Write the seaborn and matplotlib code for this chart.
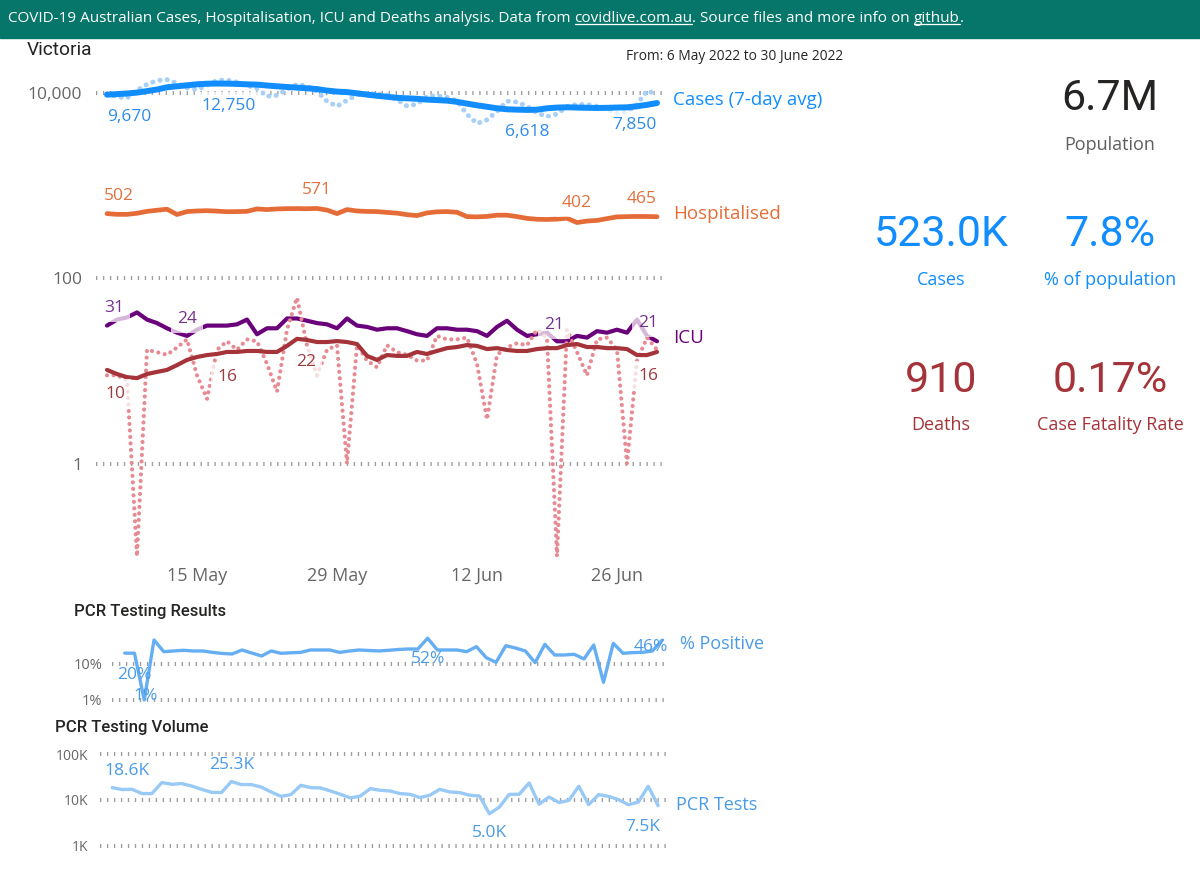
import matplotlib
matplotlib.use("Agg")
import matplotlib.dates as mdates
import matplotlib.pyplot as plt
import numpy as np
import pandas as pd
import seaborn as sns
from matplotlib.lines import Line2D
from matplotlib.patches import Rectangle
from matplotlib.ticker import FixedLocator, NullLocator

# Victoria, 6 May - 30 June 2022
dates = pd.date_range("2022-05-06", "2022-06-30", freq="D")

cases_daily = [9880, 9170, 8900, 10780, 12510, 13750, 14060, 12820, 11410, 10960,
               12200, 13820, 13920, 13210, 12200, 11240, 9280, 9510, 11050, 12510,
               11990, 10510, 8200, 7240, 8400, 9630, 9950, 9880, 9630, 8550,
               7290, 7640, 9280, 9400, 9050, 8300, 5930, 4710, 5170, 6390,
               8240, 8050, 7240, 6160, 5580, 5980, 7200, 7600, 7570, 7240,
               6670, 6080, 6230, 7600, 10640, 9750]
cases_avg = [9670, 9800, 9950, 10180, 10560, 10990, 11610, 11900, 12200, 12510,
             12690, 12750, 12720, 12630, 12510, 12410, 12140, 11900, 11700, 11520,
             11320, 11100, 10700, 10430, 10300, 10000, 9680, 9400, 9170, 8940,
             8830, 8720, 8550, 8445, 8340, 8090, 7740, 7420, 7150, 6890,
             6720, 6660, 6618, 6650, 6890, 7010, 7060, 7020, 6970, 6940,
             6970, 7020, 7060, 7240, 7510, 7850]
hospitalised = [502, 493, 493, 506, 531, 546, 560, 491, 528, 536,
                540, 534, 526, 528, 531, 564, 555, 564, 568, 569,
                567, 571, 548, 502, 555, 536, 530, 528, 517, 508,
                489, 478, 511, 525, 528, 519, 466, 463, 468, 483,
                483, 466, 446, 436, 434, 438, 448, 402, 417, 424,
                443, 463, 466, 468, 467, 465]
icu = [31, 36, 38, 43, 36, 33, 29, 26, 24, 28,
       31, 31, 31, 32, 36, 25, 29, 29, 37, 37,
       35, 33, 32, 29, 37, 31, 30, 28, 29, 29,
       27, 25, 24, 29, 29, 28, 28, 27, 24, 30,
       35, 28, 24, 25, 26, 21, 21, 24, 23, 27,
       26, 28, 26, 36, 24, 21]
# zero days are drawn at 0.1 on the log axis
deaths_daily = [9, 9, 8, 0.1, 17, 16, 15, 18, 22, 9,
                5, 17, 21, 17, 22, 21, 12, 6, 28, 62,
                19, 9, 17, 19, 1, 19, 13, 11, 19, 16,
                15, 13, 13, 24, 22, 22, 23, 12, 3, 15,
                18, 20, 19, 28, 23, 0.1, 28, 16, 9, 22,
                23, 17, 1, 13, 23, 17]
deaths_avg = [10.3, 9.3, 8.6, 8.4, 9.3, 9.8, 10.3, 11.6, 13.2, 14.2,
              14.9, 15.3, 16.1, 16.1, 16.5, 16.5, 16.1, 16.1, 18.7, 22.3,
              21.7, 20.6, 20.6, 21.1, 20.6, 19.6, 14.6, 13.2, 14.9, 14.6,
              14.6, 16.1, 15.3, 16.5, 17.7, 18.2, 19.1, 18.7, 17.3, 17.7,
              16.9, 16.5, 16.5, 17.3, 17.7, 17.7, 19.1, 19.6, 18.2, 18.2,
              17.7, 17.7, 17.3, 14.9, 14.9, 16.1]
pcr_positive = [20, 20, 1, 46.4, 22, 23, 24, 23, 23, 21,
                19.6, 19, 24.5, 20.2, 16.7, 23, 19.8, 20.5, 21, 24.5,
                24.5, 24.5, 21, 23, 24.5, 23.7, 23, 24, 25.3, 26.1,
                26, 52, 24.5, 24.5, 24.5, 22, 30.3, 15, 11.1, 32.2,
                27.8, 23, 10.9, 35.2, 17.8, 17.8, 18.6, 13.8, 33.7, 3.1,
                37.6, 19.8, 20.8, 21, 23, 46]
pcr_tests = [18600, 16900, 17100, 13800, 13800, 24000, 22000, 22800, 20200, 17100,
             14700, 14500, 25300, 21700, 21700, 19200, 15000, 12000, 13100, 20900,
             18600, 18300, 15700, 13300, 11100, 12200, 17700, 16300, 15700, 13800,
             13300, 11300, 12700, 17100, 15000, 14500, 12700, 12200, 5000, 7000,
             13300, 13300, 23500, 8100, 11600, 8800, 9800, 19900, 7900, 13100,
             12000, 10200, 7900, 9000, 19900, 7500]

kpi_values = ["6.7M", "523.0K", "7.8%", "910", "0.17%"]
kpi_names = ["Population", "Cases", "% of population", "Deaths", "Case Fatality Rate"]

main_df = pd.DataFrame({"date": dates, "cases_daily": cases_daily, "cases_avg": cases_avg,
                        "hospitalised": hospitalised, "icu": icu,
                        "deaths_daily": deaths_daily, "deaths_avg": deaths_avg})
pcr_df = pd.DataFrame({"date": dates, "positive": pcr_positive, "tests": pcr_tests})
xnum = mdates.date2num(dates.to_pydatetime())

BLUE = "#118DFF"
ORANGE = "#E66C37"
PURPLE = "#6B007B"
DRED = "#A4343A"
PCR_TXT = "#4A9AE6"

sns.set_style("white")
plt.rcParams["font.family"] = ["Open Sans", "DejaVu Sans"]

W, H = 1200, 888
fig = plt.figure(figsize=(W / 100, H / 100), dpi=100)


def px_axes(x0, y0, x1, y1):
    return fig.add_axes([x0 / W, 1 - y1 / H, (x1 - x0) / W, (y1 - y0) / H])


def day_lim(ax, left, right):
    ax.set_xlim(dates[0] + pd.Timedelta(days=left), dates[0] + pd.Timedelta(days=right))


def style_log_axis(ax, ticks, labels, pad, size):
    ax.set_yscale("log")
    ax.yaxis.set_major_locator(FixedLocator(ticks))
    ax.yaxis.set_minor_locator(NullLocator())
    ax.set_yticklabels(labels)
    ax.grid(axis="y", color="#9c9c9c", linestyle=(0, (0.33, 1.4)), linewidth=2.9)
    ax.grid(axis="x", visible=False)
    for s in ax.spines.values():
        s.set_visible(False)
    ax.tick_params(axis="y", length=0, pad=pad, labelsize=size, labelcolor="#666666")
    ax.set_xlabel("")
    ax.set_ylabel("")


def point_labels(ax, values, idx, fmt, offsets, color, size=12.5, backed=True):
    for i, (dx, dy) in zip(idx, offsets):
        box = dict(boxstyle="square,pad=0.35", fc="white", ec="none", alpha=0.72) if backed else None
        ax.annotate(fmt(values[i]), xy=(xnum[i], values[i]), xytext=(dx, dy),
                    textcoords="offset points", ha="center", va="center",
                    color=color, fontsize=size, zorder=10, bbox=box)


def end_label(ax, values, text, color, dx=11.5, dy=2, size=13.5):
    ax.annotate(text, xy=(xnum[-1], values[-1]), xytext=(dx, dy), textcoords="offset points",
                ha="left", va="center", color=color, fontsize=size, annotation_clip=False)


dotted = dict(dash_capstyle="round")
solid = dict(solid_capstyle="round", solid_joinstyle="round")

# ---- main chart
ax = px_axes(96, 70, 665, 560)
sns.lineplot(data=main_df, x="date", y="cases_daily", ax=ax, color="#A8D0F7",
             linewidth=3.6, linestyle=(0, (0.01, 1.45)), **dotted)
sns.lineplot(data=main_df, x="date", y="cases_avg", ax=ax, color=BLUE, linewidth=4.3, **solid)
sns.lineplot(data=main_df, x="date", y="hospitalised", ax=ax, color=ORANGE, linewidth=3.4, **solid)
sns.lineplot(data=main_df, x="date", y="icu", ax=ax, color=PURPLE, linewidth=3.0, **solid)
sns.lineplot(data=main_df, x="date", y="deaths_daily", ax=ax, color="#E68A93",
             linewidth=3.0, linestyle=(0, (0.01, 1.55)), **dotted)
sns.lineplot(data=main_df, x="date", y="deaths_avg", ax=ax, color=DRED, linewidth=3.0, **solid)
style_log_axis(ax, [1, 100, 10000], ["1", "100", "10,000"], 10, 12.5)
ax.set_ylim(0.0912, 17850)
day_lim(ax, -1.1, 55.8)
tick_idx = [9, 23, 37, 51]
ax.set_xticks([dates[i] for i in tick_idx])
ax.set_xticklabels([dates[i].strftime("%-d %b") for i in tick_idx])
ax.tick_params(axis="x", length=0, pad=5, labelsize=13, labelcolor="#666666")

point_labels(ax, cases_avg, [0, 11, 42, 55], "{:,.0f}".format,
             [(16, -16), (8, -16), (0, -16), (-16, -16)], "#2F8BE8")
point_labels(ax, hospitalised, [0, 21, 47, 55], "{:.0f}".format,
             [(8.5, 13), (0, 13), (0, 14), (-11, 13)], "#E0703E")
point_labels(ax, icu, [0, 8, 45, 55], "{:.0f}".format,
             [(5, 13), (0, 12), (-2, 12), (-6.5, 13)], "#74338A")
point_labels(ax, deaths_avg, [0, 12, 19, 55], "{:.0f}".format,
             [(6, -17), (0, -18), (6.5, -17), (-6.5, -17)], "#9B3B40")
end_label(ax, cases_avg, "Cases (7-day avg)", BLUE)
end_label(ax, hospitalised, "Hospitalised", ORANGE)
end_label(ax, icu, "ICU", PURPLE)

# ---- PCR testing results
ax2 = px_axes(112, 628, 668, 705)
sns.lineplot(data=pcr_df, x="date", y="positive", ax=ax2, color="#66AEF2", linewidth=2.4, **solid)
style_log_axis(ax2, [1, 10], ["1%", "10%"], 7, 10.5)
ax2.set_ylim(0.726, 100)
day_lim(ax2, -1.30, 55.6)
ax2.set_xticks([])
point_labels(ax2, pcr_positive, [0, 2, 31, 55], "{:.0f}%".format,
             [(7, -16), (1, 3), (0, -15), (-8, -5)], PCR_TXT, size=12.5, backed=False)
end_label(ax2, pcr_positive, "% Positive", PCR_TXT, dx=13, dy=-3, size=13)

# ---- PCR testing volume
ax3 = px_axes(100, 748, 668, 850)
sns.lineplot(data=pcr_df, x="date", y="tests", ax=ax3, color="#99C9F5", linewidth=2.4, **solid)
style_log_axis(ax3, [1000, 10000, 100000], ["1K", "10K", "100K"], 8.6, 10)
ax3.set_ylim(809, 136500)
day_lim(ax3, -1.23, 55.99)
ax3.set_xticks([])
point_labels(ax3, pcr_tests, [0, 12, 38, 55], lambda v: f"{v / 1000:.1f}K",
             [(11, 12), (0, 12), (0, -14), (-11, -15)], PCR_TXT, size=12.5, backed=False)
end_label(ax3, pcr_tests, "PCR Tests", PCR_TXT, dx=12.5, dy=0.5, size=13)

# ---- titles
fig.text(27 / W, 1 - 50 / H, "Victoria", family=["Roboto", "DejaVu Sans"], fontsize=13.8,
         color="#252423", va="center")
fig.text(626 / W, 1 - 57 / H, "From: 6 May 2022 to 30 June 2022", fontsize=9.9,
         color="#252423", va="center")
fig.text(74 / W, 1 - 611 / H, "PCR Testing Results", family=["Roboto", "DejaVu Sans"],
         fontsize=12, fontweight="medium", color="#252423", va="center")
fig.text(55 / W, 1 - 727 / H, "PCR Testing Volume", family=["Roboto", "DejaVu Sans"],
         fontsize=12, fontweight="medium", color="#252423", va="center")

# ---- KPI cards
kpi_pos = [(1110, 99, 145), (941, 235, 280), (1110, 235, 280), (941, 380, 425), (1110, 380, 425)]
kpi_colors = ["#252423", BLUE, BLUE, DRED, DRED]
name_colors = ["#605E5C", BLUE, BLUE, DRED, DRED]
for val, name, (cx, vy, ny), vc, nc in zip(kpi_values, kpi_names, kpi_pos, kpi_colors, name_colors):
    fig.text(cx / W, 1 - vy / H, val, family=["Roboto", "DejaVu Sans"], fontsize=31,
             color=vc, ha="center", va="center")
    fig.text(cx / W, 1 - ny / H, name, fontsize=13, color=nc, ha="center", va="center")

# ---- header banner
fig.add_artist(Rectangle((0, 1 - 38 / H), 1, 38 / H, transform=fig.transFigure,
                         color="#07766A", zorder=0))
header_parts = [("COVID-19 Australian Cases, Hospitalisation, ICU and Deaths analysis. Data from ", False),
                ("covidlive.com.au", True),
                (". Source files and more info on ", False),
                ("github", True),
                (".", False)]
renderer = fig.canvas.get_renderer()
hx = 8 / W
for piece, underline in header_parts:
    t = fig.text(hx, 1 - 19 / H, piece, fontsize=11, color="white", va="center")
    bb = t.get_window_extent(renderer)
    if underline:
        uy = (bb.y0 + 2.5) / H
        fig.add_artist(Line2D([bb.x0 / W, bb.x1 / W], [uy, uy], transform=fig.transFigure,
                              color="white", linewidth=0.9))
    hx = bb.x1 / W

fig.savefig("out.png", dpi=100, facecolor="white")
